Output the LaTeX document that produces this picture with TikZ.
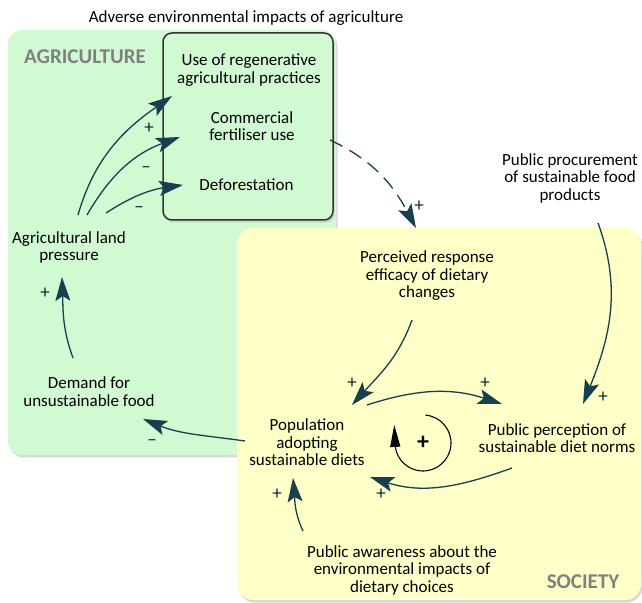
\documentclass[tikz,border=0pt]{standalone}
\usepackage{fontspec}
\setmainfont{Carlito}
\usetikzlibrary{arrows.meta,shadows}

\definecolor{linkcol}{RGB}{22,64,78}
\definecolor{agrigreen}{RGB}{210,250,210}
\definecolor{socyellow}{RGB}{255,255,200}

\begin{document}
\begin{tikzpicture}[x=1pt,y=1pt,
    var/.style={align=center, font=\fontsize{17}{17.5}\selectfont, inner sep=1pt},
    link/.style={-{Stealth[length=24pt,width=15pt,inset=5pt]}, line width=1.3pt, draw=linkcol},
    sign/.style={font=\fontsize{19}{19}\selectfont, text=linkcol!60!black, inner sep=0pt},
    sector/.style={font=\fontsize{21}{21}\selectfont\bfseries, text=black!50},
    shade/.style={drop shadow={shadow xshift=1.5pt, shadow yshift=-2.5pt, fill=black!30}}]
    \useasboundingbox (0,0) rectangle (642,602);

    % sector backgrounds
    \fill[agrigreen, rounded corners=14pt, shade] (8,147) rectangle (336,572);
    \draw[fill=agrigreen, draw=black!80, line width=1.5pt, rounded corners=9pt, shade] (163,382) rectangle (333,569);
    \fill[socyellow, rounded corners=16pt, shade] (237,2) rectangle (641,374);

    % headings
    \node[var] (title) at (246,584) {Adverse environmental impacts of agriculture};
    \node[sector] (agri) at (85,545) {AGRICULTURE};
    \node[sector] (soc) at (583,20) {SOCIETY};

    % variables
    \node[var] (regen) at (249,532) {Use of regenerative\\agricultural practices};
    \node[var] (fert) at (252,476) {Commercial\\fertiliser use};
    \node[var] (defor) at (246.5,417) {Deforestation};
    \node[var] (land) at (69,354.5) {Agricultural land\\pressure};
    \node[var] (demand) at (89,210.5) {Demand for\\unsustainable food};
    \node[var] (pop) at (307,159.5) {Population\\adopting\\sustainable diets};
    \node[var] (norms) at (557,164) {Public perception of\\sustainable diet norms};
    \node[var] (eff) at (427,326) {Perceived response\\efficacy of dietary\\changes};
    \node[var] (procure) at (570,424) {Public procurement\\of sustainable food\\products};
    \node[var] (aware) at (402,32) {Public awareness about the\\environmental impacts of\\dietary choices};

    % causal links
    \draw[link] ([shift={(9,32.5)}]land.center) to[out=74,in=215] ([shift={(-77,-26)}]regen.center);
    \draw[link] ([shift={(18,32.5)}]land.center) to[out=60,in=200] ([shift={(-72,-11)}]fert.center);
    \draw[link] ([shift={(37,34.5)}]land.center) to[out=33,in=188] ([shift={(-63.5,0)}]defor.center);
    \draw[link] ([shift={(-16,33.5)}]demand.center) to[out=110,in=-88] ([shift={(-7,-29.5)}]land.center);
    \draw[link] ([shift={(-62,1.5)}]pop.center) to[out=172,in=-22] ([shift={(54,-27.5)}]demand.center);
    \draw[link, dash pattern=on 14pt off 8pt] ([shift={(78,-14)}]fert.center) to[out=-25,in=118] ([shift={(-11,48)}]eff.center);
    \draw[link] ([shift={(-15,-44)}]eff.center) to[out=250,in=48] ([shift={(45,37.5)}]pop.center);
    \draw[link] ([shift={(28,-45)}]procure.center) to[out=-70,in=68] ([shift={(26,34)}]norms.center);
    \draw[link] ([shift={(60,37.5)}]pop.center) to[out=18,in=162] ([shift={(-55,34)}]norms.center);
    \draw[link] ([shift={(-45,-30)}]norms.center) to[out=-160,in=-18] ([shift={(63,-34.5)}]pop.center);
    \draw[link] ([shift={(-99,39)}]aware.center) to[out=115,in=-85] ([shift={(-14,-35.5)}]pop.center);

    % polarities
    \node[sign] (p1) at (149,474) {+};
    \node[sign] (p2) at (146,432) {–};
    \node[sign] (p3) at (139,392) {–};
    \node[sign] (p4) at (45,309) {+};
    \node[sign] (p5) at (152,159) {–};
    \node[sign] (p6) at (419,396) {+};
    \node[sign] (p7) at (352,219) {+};
    \node[sign] (p8) at (603,205) {+};
    \node[sign] (p9) at (485,219) {+};
    \node[sign] (p10) at (381,108) {+};
    \node[sign] (p11) at (277,108) {+};

    % reinforcing loop
    \node[font=\fontsize{24}{24}\selectfont\bfseries] (loop) at (423,159) {+};
    \draw[line width=1.1pt, -{Triangle[length=22pt,width=10pt]}]
      ([shift={(85:28)}]loop.center) arc[start angle=85, end angle=-172, radius=28] -- ++(-1,22);
\end{tikzpicture}
\end{document}
